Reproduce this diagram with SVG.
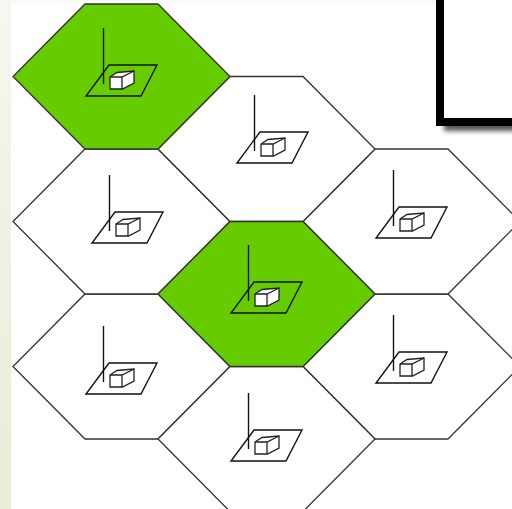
<svg xmlns="http://www.w3.org/2000/svg" width="512" height="509" viewBox="0 0 512 509">
<defs>
<linearGradient id="strip" x1="0" y1="0" x2="0" y2="1"><stop offset="0" stop-color="#f6f7f0"/><stop offset="0.5" stop-color="#eef1e0"/><stop offset="1" stop-color="#e9eed8"/></linearGradient>
<filter id="blur" x="-20%" y="-20%" width="140%" height="140%"><feGaussianBlur stdDeviation="2.5"/></filter>
<polygon id="hex" points="-36.500,-72.500 36.500,-72.500 108.500,0 36.500,72.500 -36.500,72.500 -108.500,0"/>
<g id="icon">
<path class="thin" d="M23,0 H71 L55,31 H0 Z"/>
<path class="thin" d="M17.500,-37 V19"/>
<path class="box" d="M24,12 L31,7.500 L48,6 V18 L36.500,24 H24 Z"/>
<path class="edge" d="M24,12 H36 L48,6 M36,12 V24"/>
</g>
<style>
.cell{stroke:#333;stroke-width:1.300;stroke-linejoin:miter}
.white{fill:#fff}
.green{fill:#66cc00}
.thin{fill:none;stroke:#111;stroke-width:1.400}
.box{fill:#fff;stroke:#222;stroke-width:1.300}
.edge{fill:none;stroke:#222;stroke-width:1.300}
</style>
</defs>
<rect width="512" height="509" fill="#fff"/>
<rect width="11" height="509" fill="url(#strip)"/>
<rect x="11" width="501" height="4" fill="#fafbf6"/>
<g id="connectors"/>
<g id="hex-lower-left"><use href="#hex" x="121.500" y="366.500" class="cell white"/><use href="#icon" x="86" y="363"/></g>
<g id="hex-lower-right"><use href="#hex" x="411.500" y="366.500" class="cell white"/><use href="#icon" x="376" y="352"/></g>
<g id="hex-bottom"><use href="#hex" x="266.500" y="439" class="cell white"/><use href="#icon" x="231" y="430"/></g>
<g id="hex-left"><use href="#hex" x="121.500" y="221.500" class="cell white"/><use href="#icon" x="92" y="212"/></g>
<g id="hex-right"><use href="#hex" x="411.500" y="221.500" class="cell white"/><use href="#icon" x="376" y="207"/></g>
<g id="hex-upper"><use href="#hex" x="266.500" y="149" class="cell white"/><use href="#icon" x="237" y="132"/></g>
<g id="hex-top"><use href="#hex" x="121.500" y="76.500" class="cell green"/><use href="#icon" x="86" y="65"/></g>
<g id="hex-center"><use href="#hex" x="266.500" y="294" class="cell green"/><use href="#icon" x="231" y="282"/></g>
<g id="panel">
<rect x="444" y="-20" width="90" height="151" fill="#555" filter="url(#blur)"/>
<rect x="440" y="-20" width="100" height="142" fill="#fff" stroke="#000" stroke-width="8"/>
</g>
</svg>
